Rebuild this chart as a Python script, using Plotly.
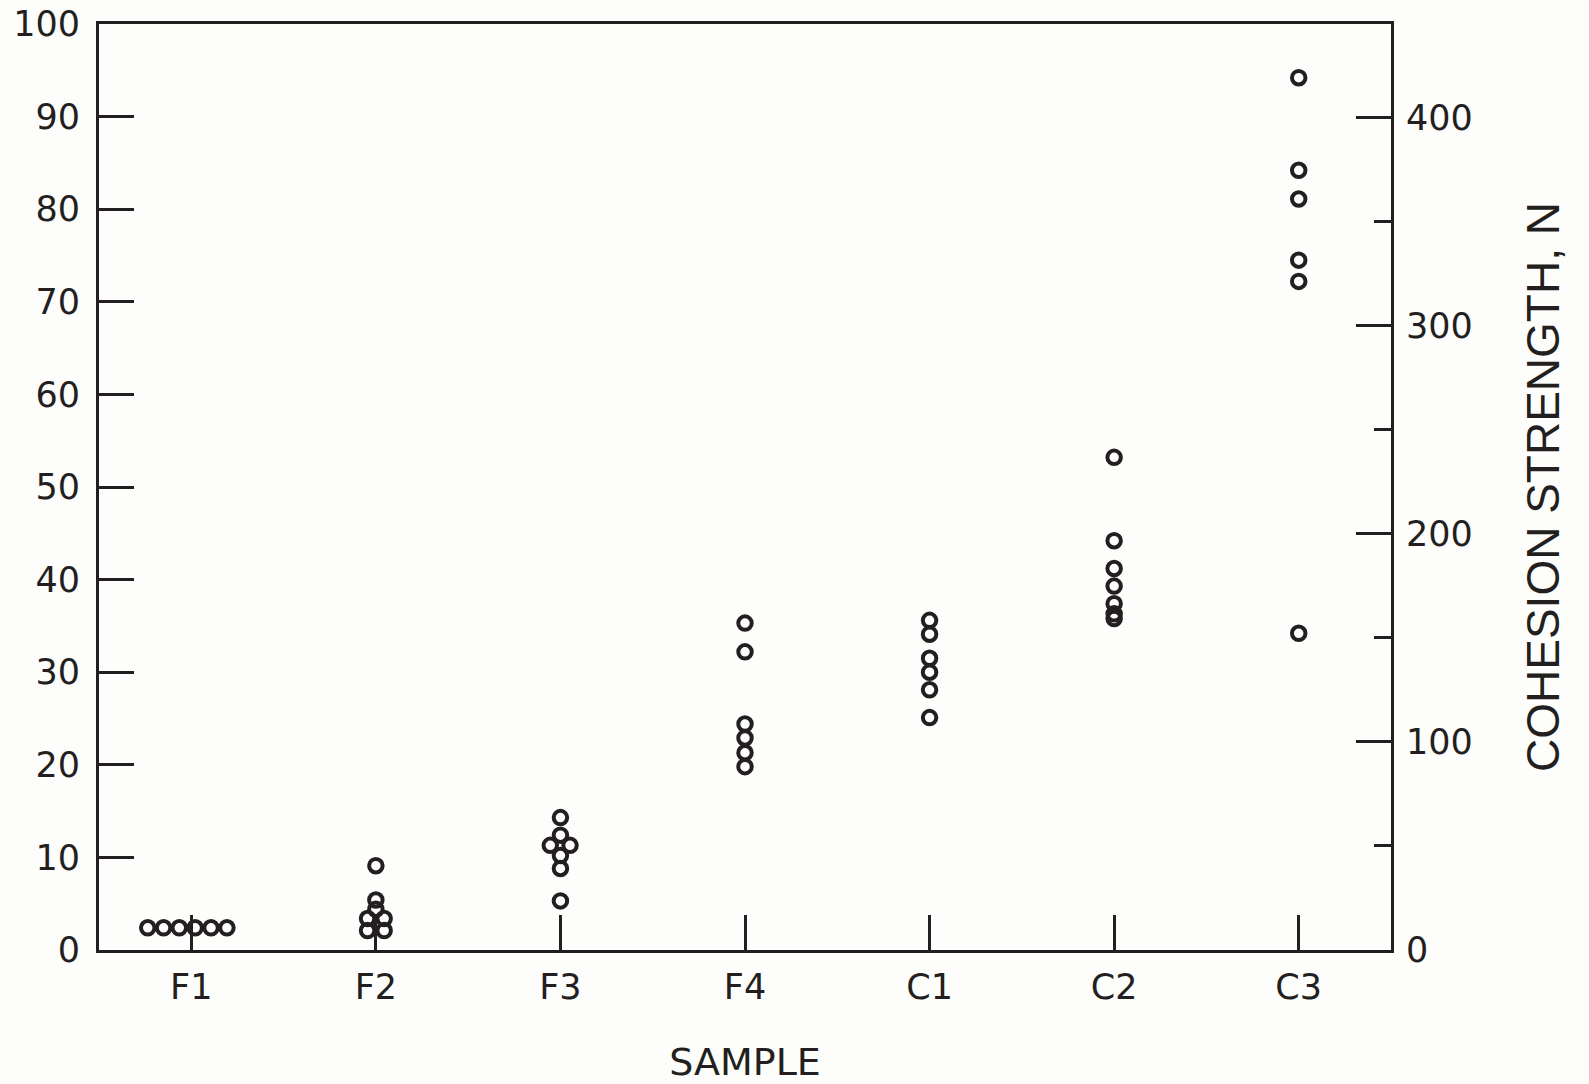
import plotly.graph_objects as go

# ---- data ----
categories = ["F1", "F2", "F3", "F4", "C1", "C2", "C3"]

f1_vals = [2.4, 2.4, 2.4, 2.4, 2.4, 2.4]
f1_dx = [-0.236, -0.150, -0.065, 0.021, 0.107, 0.193]

f2_vals = [9.1, 5.4, 4.4, 3.4, 3.4, 2.1, 2.1]
f2_dx = [0.0, 0.0, 0.0, -0.045, 0.045, -0.045, 0.045]

f3_vals = [14.3, 12.4, 11.3, 11.3, 10.2, 8.8, 5.3]
f3_dx = [0.0, 0.0, -0.055, 0.052, 0.0, 0.0, 0.0]

f4_vals = [35.3, 32.2, 24.4, 22.9, 21.3, 19.8]
c1_vals = [35.6, 34.1, 31.5, 30.0, 28.1, 25.1]
c2_vals = [53.2, 44.2, 41.2, 39.3, 37.4, 36.3, 35.8]
c3_vals = [94.2, 84.2, 81.1, 74.5, 72.2, 34.2]

left_ticks = list(range(0, 101, 10))
right_ticks = [0, 100, 200, 300, 400]
LBF_TO_N = 4.448

groups = [
    (f1_vals, f1_dx),
    (f2_vals, f2_dx),
    (f3_vals, f3_dx),
    (f4_vals, None),
    (c1_vals, None),
    (c2_vals, None),
    (c3_vals, None),
]

xs, ys = [], []
for i, (vals, dx) in enumerate(groups):
    if dx is None:
        dx = [0.0] * len(vals)
    xs += [i + d for d in dx]
    ys += vals

INK = "#231f20"
BG = "#fdfdfb"

fig = go.Figure()
fig.add_trace(go.Scatter(
    x=xs, y=ys, mode="markers",
    marker=dict(symbol="circle-open", size=13.5, color=INK,
                line=dict(width=4, color=INK)),
    showlegend=False, hoverinfo="skip",
))
# empty trace so the right-hand (newton) axis is drawn
fig.add_trace(go.Scatter(x=[None], y=[None], yaxis="y2", mode="markers",
                         showlegend=False, hoverinfo="skip"))

tick_font = dict(family="DejaVu Sans", size=35, color=INK)

fig.update_layout(
    width=1589, height=1084,
    margin=dict(l=99, r=198, t=24, b=134),
    paper_bgcolor=BG, plot_bgcolor=BG,
    font=dict(family="DejaVu Sans", color=INK),
    xaxis=dict(
        range=[-0.5, 6.5], tickvals=list(range(len(categories))), ticktext=categories,
        ticks="inside", ticklen=35, tickwidth=3, tickcolor=INK,
        showline=True, linewidth=3, linecolor=INK, mirror=True,
        showgrid=False, zeroline=False, tickfont=tick_font,
        ticklabelstandoff=4, automargin=False,
        title=dict(text="SAMPLE", font=dict(family="DejaVu Sans", size=38, color=INK), standoff=46),
    ),
    yaxis=dict(
        range=[0, 100], tickvals=left_ticks,
        ticks="inside", ticklen=35, tickwidth=3, tickcolor=INK,
        showline=True, linewidth=3, linecolor=INK,
        showgrid=False, zeroline=False, tickfont=tick_font,
        ticklabelstandoff=9, automargin=False,
    ),
    yaxis2=dict(
        overlaying="y", side="right", range=[0, 100 * LBF_TO_N], tickvals=right_ticks,
        ticks="inside", ticklen=35, tickwidth=3, tickcolor=INK,
        minor=dict(dtick=50, ticks="inside", ticklen=17, tickwidth=3, tickcolor=INK),
        showline=True, linewidth=3, linecolor=INK,
        showgrid=False, zeroline=False, tickfont=tick_font,
        ticklabelstandoff=5, automargin=False,
        title=dict(text="COHESION STRENGTH, N",
                   font=dict(family="Liberation Sans", size=46, color=INK), standoff=55),
    ),
)

fig.write_html(
    "out.html",
    config={"displayModeBar": False},
    post_script="document.body.style.margin='0';document.body.style.overflow='hidden';",
)
